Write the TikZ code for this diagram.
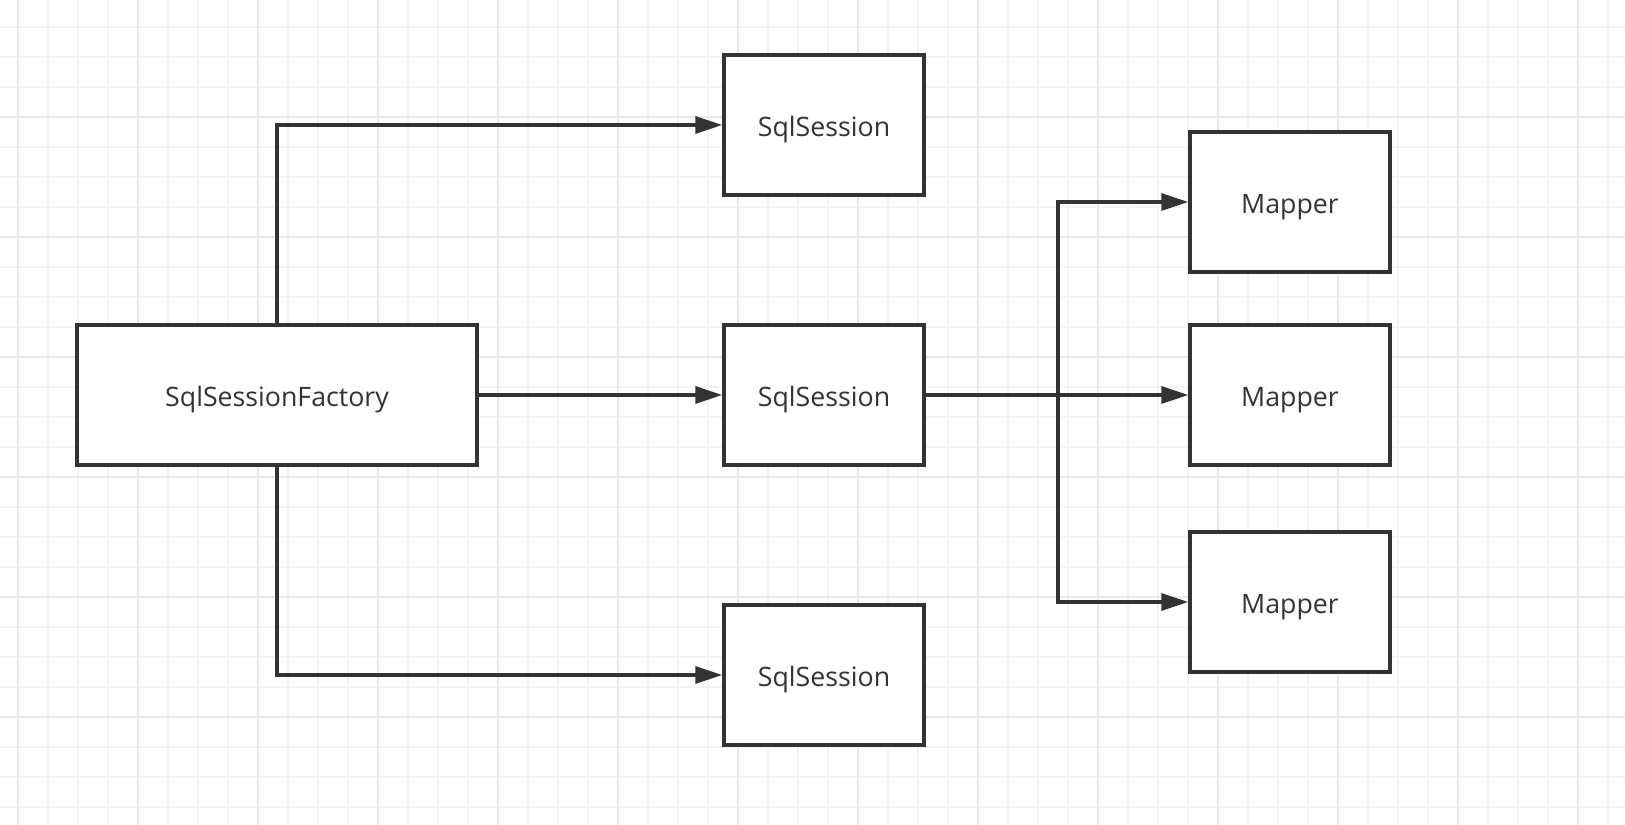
\documentclass[tikz,border=0pt]{standalone}
\usepackage{fontspec}
\setmainfont{Open Sans}
\usetikzlibrary{arrows.meta}
\definecolor{ink}{HTML}{333333}
\definecolor{gridminor}{HTML}{F3F3F3}
\definecolor{gridmajor}{HTML}{E8E8E8}
\begin{document}
\begin{tikzpicture}[x=0.01cm,y=-0.01cm]
		\tikzstyle{box}=[draw=ink,fill=white,line width=0.95pt,inner sep=0pt,minimum height=1.4cm,text=ink,text height=0.66em,text depth=0pt,font=\fontsize{7.6pt}{9pt}\selectfont]
		\tikzstyle{link}=[draw=ink,line width=0.95pt,-{Triangle[length=0.27cm,width=0.17cm]}]
		
		\useasboundingbox (0,0) rectangle (1625,825);
		\fill[white] (0,0) rectangle (1625,825);
		% grid
		\foreach \gx in {18,48,...,1625} \draw[gridminor,line width=0.7pt] (\gx,0)--(\gx,825);
		\foreach \gy in {27,57,...,825} \draw[gridminor,line width=0.7pt] (0,\gy)--(1625,\gy);
		\foreach \gx in {18,138,...,1625} \draw[gridmajor,line width=0.7pt] (\gx,0)--(\gx,825);
		\foreach \gy in {117,237,...,825} \draw[gridmajor,line width=0.7pt] (0,\gy)--(1625,\gy);
		
		\node (F) at (277,395) [box, minimum width=4cm] {SqlSessionFactory};
		\node (S1) at (824,125) [box, minimum width=2cm] {SqlSession};
		\node (S2) at (824,395) [box, minimum width=2cm] {SqlSession};
		\node (S3) at (824,675) [box, minimum width=2cm] {SqlSession};
		\node (M1) at (1290,202) [box, minimum width=2cm] {Mapper};
		\node (M2) at (1290,395) [box, minimum width=2cm] {Mapper};
		\node (M3) at (1290,602) [box, minimum width=2cm] {Mapper};
		\coordinate (J) at (1058,395);
		
		\draw[link] (F.north) |- (S1.west);
		\draw[link] (F.east)--(S2.west);
		\draw[link] (F.south) |- (S3.west);
		\draw[link] (S2.east)--(M2.west);
		\draw[link] (J) |- (M1.west);
		\draw[link] (J) |- (M3.west);
		
		\end{tikzpicture}
\end{document}
